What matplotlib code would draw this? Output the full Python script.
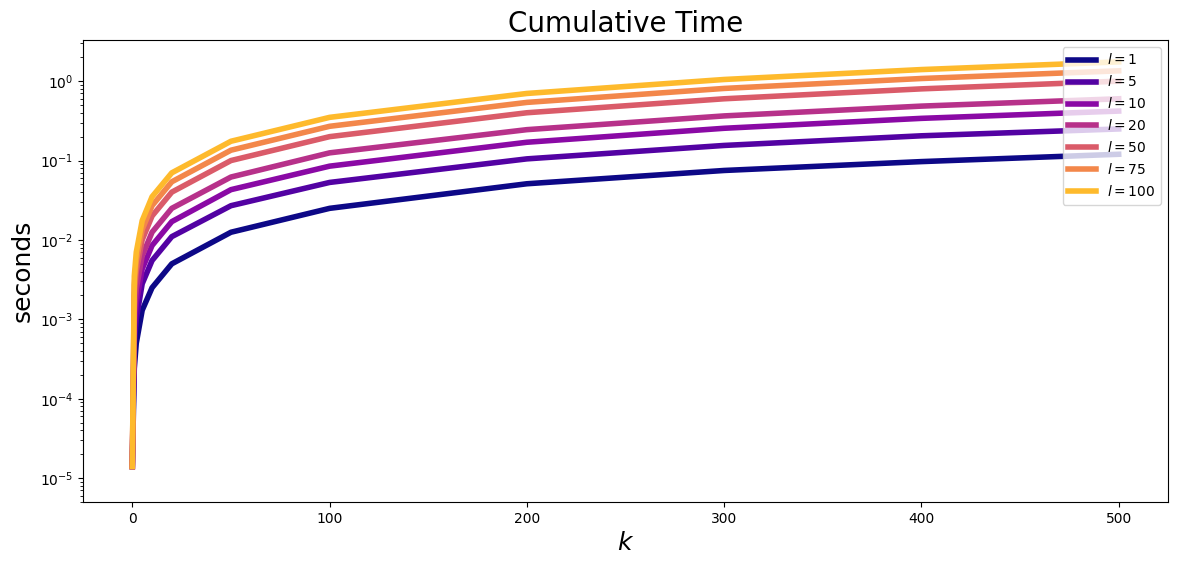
import numpy as np
import matplotlib.pyplot as plt

k = [0, 1, 2, 5, 10, 20, 50, 100, 200, 300, 400, 500]
ls = [1, 5, 10, 20, 50, 75, 100]
times = {
    1:   [1.4e-5, 2.4e-4, 5e-4, 1.3e-3, 2.5e-3, 5e-3, 1.25e-2, 2.5e-2, 5.1e-2, 7.5e-2, 9.7e-2, 0.12],
    5:   [1.4e-5, 5e-4, 1e-3, 2.8e-3, 5.5e-3, 1.1e-2, 2.7e-2, 5.3e-2, 1.05e-1, 1.55e-1, 2.05e-1, 0.25],
    10:  [1.4e-5, 8e-4, 1.6e-3, 4.3e-3, 8.5e-3, 1.7e-2, 4.3e-2, 8.5e-2, 1.7e-1, 2.55e-1, 3.4e-1, 0.42],
    20:  [1.4e-5, 1.2e-3, 2.4e-3, 6.3e-3, 1.25e-2, 2.5e-2, 6.2e-2, 1.25e-1, 2.45e-1, 3.65e-1, 4.85e-1, 0.6],
    50:  [1.4e-5, 2e-3, 4e-3, 1e-2, 2e-2, 4e-2, 1e-1, 2e-1, 4e-1, 6e-1, 8e-1, 1.0],
    75:  [1.4e-5, 2.7e-3, 5.4e-3, 1.35e-2, 2.7e-2, 5.4e-2, 1.35e-1, 2.7e-1, 5.4e-1, 8.1e-1, 1.08, 1.35],
    100: [1.4e-5, 3.5e-3, 7e-3, 1.75e-2, 3.5e-2, 7e-2, 1.75e-1, 3.5e-1, 7e-1, 1.05, 1.4, 1.75],
}

fig = plt.figure(figsize=(11.77, 5.65), dpi=100)
ax = fig.add_axes([83 / 1177, 63 / 565, 1085 / 1177, 462 / 565])

colors = plt.cm.plasma(np.linspace(0, 0.85, len(ls)))
for l, c in zip(ls, colors):
    ax.plot(k, times[l], color=c, linewidth=4, label=f"$l={l}$")

ax.set_yscale("log")
ax.set_ylim(5e-6, 3.3)
ax.set_xlim(-25, 525)
ax.set_title("Cumulative Time", fontsize=20)
ax.set_xlabel("$k$", fontsize=18)
ax.set_ylabel("seconds", fontsize=18)
ax.legend(loc="upper right")

fig.savefig("out.png", dpi=100)
